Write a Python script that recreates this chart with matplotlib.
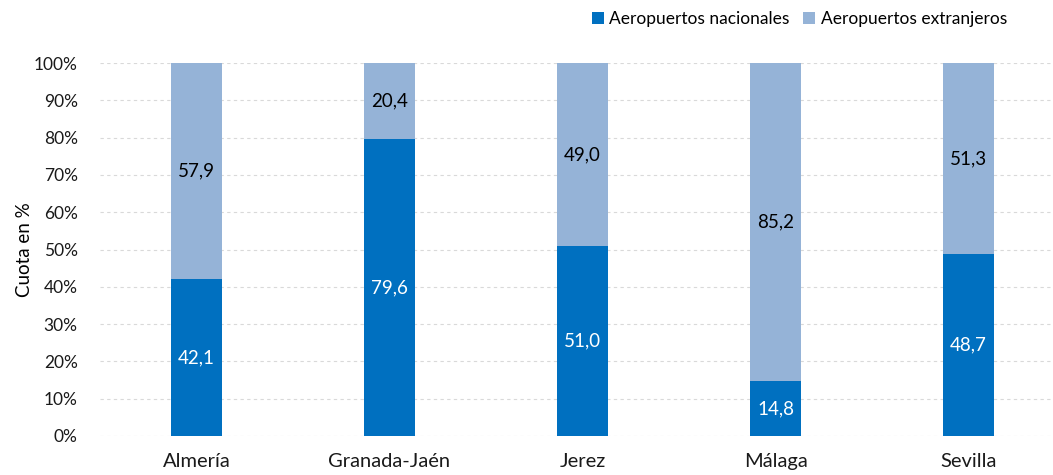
import matplotlib.pyplot as plt
import numpy as np

airports = ["Almería", "Granada-Jaén", "Jerez", "Málaga", "Sevilla"]
nacionales = [42.1, 79.6, 51.0, 14.8, 48.7]
extranjeros = [57.9, 20.4, 49.0, 85.2, 51.3]

plt.rcParams['font.family'] = ['Lato', 'DejaVu Sans']

fig = plt.figure(figsize=(10.53, 4.75), dpi=100)
ax = fig.add_axes([100 / 1053, 1 - 436 / 475, 953 / 1053, 373 / 475])

x = np.arange(len(airports))
w = 0.264
dark = "#0070C0"
light = "#95B3D7"
ax.bar(x, nacionales, w, color=dark, label="Aeropuertos nacionales", zorder=3)
ax.bar(x, extranjeros, w, bottom=nacionales, color=light, label="Aeropuertos extranjeros", zorder=3)

def fmt(v):
    return f"{v:.1f}".replace(".", ",")

for i in range(len(airports)):
    ax.text(x[i], nacionales[i] / 2, fmt(nacionales[i]), ha="center", va="center",
            color="white", fontsize=13.5, zorder=4)
    ax.text(x[i], nacionales[i] + extranjeros[i] / 2, fmt(extranjeros[i]), ha="center",
            va="center", color="black", fontsize=13.5, zorder=4)

ax.set_xlim(-0.5, -0.5 + 953 / 193)
ax.set_ylim(0, 100)
ax.set_yticks(range(0, 101, 10))
ax.set_yticklabels([f"{v}%" for v in range(0, 101, 10)])
ax.set_xticks(x)
ax.set_xticklabels(airports)
ax.tick_params(axis="both", length=0, colors="#1a1a1a")
ax.tick_params(axis="y", labelsize=12.5, pad=16)
ax.tick_params(axis="x", labelsize=14.5, pad=12)
ax.grid(axis="y", color="#d9d9d9", linestyle=(0, (3, 3)), linewidth=0.8, zorder=0)
for s in ax.spines.values():
    s.set_visible(False)
ax.set_ylabel("Cuota en %", fontsize=13.5, labelpad=1)

ax.legend(loc="upper right", bbox_to_anchor=(0.968, 1.18), ncol=2, frameon=False,
          fontsize=12.5, handlelength=0.7, handleheight=0.7, handletextpad=0.3,
          columnspacing=0.8)

plt.savefig("out.png", dpi=100)
